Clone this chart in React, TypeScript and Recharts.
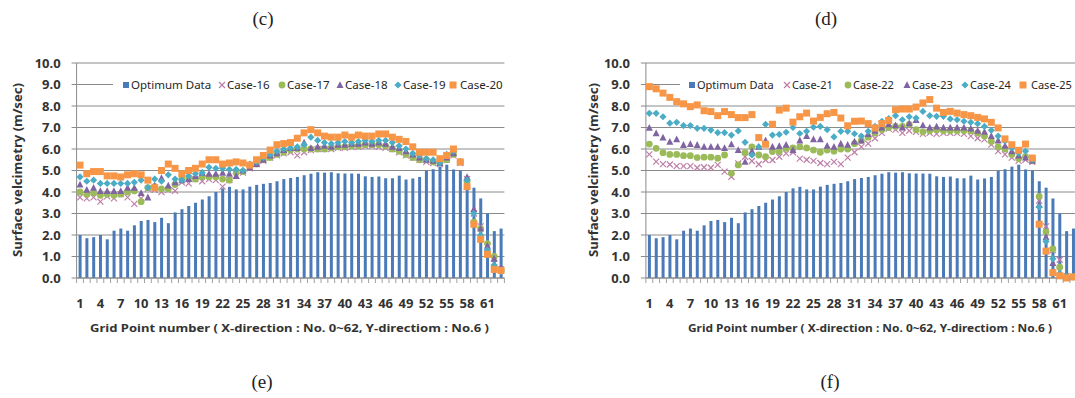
import React from "react";
import { ComposedChart, Bar, Scatter, XAxis, YAxis, CartesianGrid, Legend } from "recharts";

// grid point numbers along X (categories)
const gridPoints = [
  1, 2, 3, 4, 5, 6, 7, 8, 9, 10, 11, 12, 13, 14, 15, 16, 17, 18, 19, 20, 21,
  22, 23, 24, 25, 26, 27, 28, 29, 30, 31, 32, 33, 34, 35, 36, 37, 38, 39, 40, 41, 42,
  43, 44, 45, 46, 47, 48, 49, 50, 51, 52, 53, 54, 55, 56, 57, 58, 59, 60, 61, 62, 63,
];
const yTicks = [0, 1, 2, 3, 4, 5, 6, 7, 8, 9, 10];

const optimum = [
  2.0, 1.85, 1.9, 2.0, 1.8, 2.2, 2.3, 2.2, 2.45, 2.65, 2.7, 2.6, 2.8, 2.55, 3.05, 3.2, 3.35, 3.5, 3.65, 3.8, 4.0,
  4.17, 4.24, 4.12, 4.12, 4.25, 4.33, 4.38, 4.42, 4.5, 4.6, 4.65, 4.7, 4.78, 4.85, 4.92, 4.9, 4.92, 4.87, 4.86, 4.86, 4.85,
  4.73, 4.7, 4.72, 4.64, 4.64, 4.76, 4.58, 4.63, 4.7, 4.99, 5.06, 5.18, 5.27, 5.05, 5.0, 4.5, 4.2, 3.7, 3.0, 2.18, 2.3,
];

// panel (c)
const case16 = [
  3.75, 3.7, 3.75, 3.55, 3.8, 3.7, 3.9, 3.75, 3.45, 3.7, 4.15, 4.1, 4.0, 4.1, 4.05, 4.45, 4.4, 4.6, 4.5, 4.6, 4.55,
  4.25, 4.55, 4.75, 4.9, 5.1, 5.3, 5.45, 5.6, 5.7, 5.8, 5.85, 5.7, 5.85, 5.95, 6.0, 6.0, 6.0, 6.05, 6.05, 6.1, 6.1,
  6.15, 6.15, 6.1, 6.05, 6.0, 5.85, 5.7, 5.6, 5.5, 5.4, 5.35, 5.3, 5.5, 5.7, 5.35, 4.6, 3.0, 2.4, 1.2, 0.7, 0.4,
];
const case17 = [
  4.0, 3.9, 3.95, 3.85, 3.9, 3.85, 3.9, 4.0, 4.05, 3.55, 4.2, 4.25, 4.15, 4.15, 4.35, 4.6, 4.65, 4.6, 4.7, 4.7, 4.7,
  4.6, 4.55, 4.9, 4.95, 5.2, 5.3, 5.5, 5.6, 5.75, 5.85, 5.95, 6.0, 6.0, 6.0, 6.0, 6.0, 6.05, 6.1, 6.1, 6.15, 6.15,
  6.2, 6.2, 6.2, 6.15, 6.0, 5.9, 5.75, 5.6, 5.5, 5.5, 5.4, 5.35, 5.5, 5.75, 5.4, 4.5, 2.6, 2.3, 1.6, 1.0, 0.4,
];
const case18 = [
  4.35, 4.1, 4.2, 4.05, 4.05, 4.05, 4.05, 4.2, 4.2, 3.95, 3.75, 4.3, 4.65, 4.3, 4.45, 4.55, 4.6, 4.75, 4.9, 4.85, 4.85,
  4.9, 4.85, 4.75, 5.0, 5.15, 5.3, 5.5, 5.7, 5.8, 5.95, 6.05, 6.05, 6.3, 6.05, 6.1, 6.15, 6.1, 6.2, 6.2, 6.25, 6.25,
  6.3, 6.25, 6.3, 6.25, 6.1, 6.05, 5.9, 5.75, 5.6, 5.5, 5.45, 5.35, 5.6, 5.8, 5.4, 4.7, 3.2, 2.3, 1.5, 0.9, 0.5,
];
const case19 = [
  4.7, 4.5, 4.55, 4.4, 4.4, 4.4, 4.4, 4.4, 4.45, 4.55, 4.2, 4.6, 4.5, 4.8, 4.6, 4.55, 4.75, 4.85, 4.9, 5.15, 5.1,
  5.1, 5.05, 5.05, 5.0, 5.3, 5.4, 5.6, 5.75, 5.9, 6.0, 6.05, 6.1, 6.2, 6.55, 6.4, 6.3, 6.25, 6.3, 6.35, 6.3, 6.35,
  6.4, 6.35, 6.4, 6.4, 6.3, 6.15, 6.0, 5.8, 5.7, 5.55, 5.5, 5.35, 5.75, 5.9, 5.4, 4.55, 3.0, 2.0, 1.3, 0.6, 0.3,
];
const case20 = [
  5.25, 4.85, 4.95, 4.95, 4.75, 4.75, 4.7, 4.8, 4.85, 4.8, 4.55, 4.2, 5.0, 5.3, 5.1, 4.85, 5.0, 5.1, 5.3, 5.5, 5.5,
  5.3, 5.35, 5.4, 5.35, 5.25, 5.5, 5.7, 5.95, 6.2, 6.25, 6.3, 6.5, 6.75, 6.9, 6.75, 6.6, 6.55, 6.55, 6.65, 6.55, 6.65,
  6.6, 6.6, 6.7, 6.7, 6.55, 6.45, 6.35, 6.1, 5.85, 5.85, 5.85, 5.55, 5.7, 6.0, 5.4, 4.25, 2.5, 1.8, 1.1, 0.4, 0.35,
];

// panel (d)
const case21 = [
  5.75, 5.41, 5.3, 5.28, 5.2, 5.2, 5.2, 5.13, 5.15, 5.13, 5.26, 4.95, 4.71, 5.33, 5.64, 5.44, 5.29, 5.49, 5.49, 5.64, 5.8,
  5.85, 5.55, 5.5, 5.45, 5.35, 5.3, 5.4, 5.3, 5.6, 5.85, 6.1, 6.25, 6.5, 6.75, 6.95, 6.9, 6.75, 6.85, 6.8, 6.7, 6.75,
  6.7, 6.75, 6.75, 6.75, 6.7, 6.6, 6.5, 6.45, 6.2, 5.9, 5.75, 5.6, 5.45, 5.5, 5.4, 3.6, 2.4, 1.3, 0.85, 0.1, 0.05,
];
const case22 = [
  6.23, 6.03, 5.83, 5.75, 5.75, 5.69, 5.69, 5.6, 5.62, 5.62, 5.57, 5.72, 4.87, 5.26, 5.83, 6.1, 5.72, 5.64, 5.88, 5.88, 6.03,
  6.05, 6.1, 6.05, 5.95, 5.85, 5.95, 5.9, 6.0, 6.0, 6.25, 6.4, 6.55, 6.75, 6.9, 7.0, 7.05, 7.05, 7.15, 6.9, 6.8, 6.85,
  6.9, 6.85, 6.85, 6.85, 6.85, 6.85, 6.75, 6.6, 6.35, 6.1, 6.0, 5.75, 5.55, 5.65, 5.45, 3.8, 2.15, 1.35, 0.5, 0.05, 0.05,
];
const case23 = [
  6.99, 6.73, 6.53, 6.34, 6.45, 6.19, 6.23, 6.19, 6.1, 6.1, 6.1, 6.05, 6.22, 5.95, 5.41, 5.9, 6.1, 6.4, 6.1, 6.14, 6.2,
  5.95, 6.4, 6.6, 6.45, 6.45, 6.15, 6.1, 6.25, 6.2, 6.35, 6.4, 6.7, 6.85, 7.0, 7.15, 7.1, 7.0, 7.2, 7.35, 7.1, 7.0,
  7.05, 7.0, 7.0, 7.0, 7.0, 6.95, 6.85, 6.8, 6.6, 6.4, 6.15, 5.9, 5.7, 5.6, 5.45, 3.4, 1.9, 0.7, 0.15, 0.05, 0.05,
];
const case24 = [
  7.66, 7.66, 7.5, 7.2, 7.24, 7.09, 7.09, 6.96, 6.96, 6.88, 6.76, 6.76, 6.65, 6.84, 6.31, 5.72, 6.1, 7.15, 6.65, 6.68, 6.78,
  7.0, 6.72, 6.82, 7.02, 7.05, 6.9, 6.56, 6.82, 6.82, 6.71, 6.6, 6.82, 7.05, 7.29, 7.41, 7.55, 7.36, 7.5, 7.44, 7.75, 7.55,
  7.52, 7.52, 7.4, 7.36, 7.29, 7.24, 7.18, 7.05, 6.87, 6.6, 6.36, 6.05, 5.81, 5.9, 5.5, 3.3, 1.7, 0.9, 0.2, 0.05, 0.05,
];
const case25 = [
  8.9, 8.8, 8.6, 8.4, 8.2, 8.1, 7.97, 8.05, 7.78, 7.74, 7.55, 7.74, 7.6, 7.46, 7.46, 7.6, 6.53, 6.22, 7.15, 7.81, 7.9,
  7.25, 7.5, 7.67, 7.3, 7.47, 7.64, 7.7, 7.44, 7.08, 7.29, 7.3, 7.18, 6.98, 7.18, 7.33, 7.83, 7.86, 7.86, 7.95, 8.14, 8.3,
  7.9, 7.7, 7.75, 7.67, 7.6, 7.55, 7.47, 7.4, 7.24, 6.98, 6.47, 6.2, 5.94, 6.23, 5.58, 2.5, 1.25, 0.25, 0.1, 0.0, 0.05,
];

const BAR_COLOR = "#4A7AB8";
const MARKER_COLORS = ["#BE7FA8", "#9BBB59", "#8064A2", "#4BACC6", "#F79646"];
const MARKER_KINDS = ["bar", "x", "circle", "triangle", "diamond", "square"];

const FONT = "'Noto Sans', sans-serif";
const Y_TITLE = "Surface velcimetry (m/sec)";
const X_TITLE = "Grid Point number ( X-direction : No. 0~62, Y-directiom : No.6 )";
const PLOT_BOTTOM = 278;

function drawMarker(kind: string, cx: number, cy: number, color: string) {
  if (cx == null || cy == null || isNaN(cx) || isNaN(cy)) return <g />;
  switch (kind) {
    case "bar":
      return <rect x={cx - 3} y={cy - 3} width={6} height={6} fill={color} />;
    case "x":
      return (
        <g stroke={color} strokeWidth={1.2}>
          <line x1={cx - 3} y1={cy - 3} x2={cx + 3} y2={cy + 3} />
          <line x1={cx - 3} y1={cy + 3} x2={cx + 3} y2={cy - 3} />
        </g>
      );
    case "circle":
      return <circle cx={cx} cy={cy} r={3.4} fill={color} />;
    case "triangle":
      return <polygon points={`${cx},${cy - 3.8} ${cx + 3.5},${cy + 3} ${cx - 3.5},${cy + 3}`} fill={color} />;
    case "diamond":
      return <polygon points={`${cx},${cy - 3.6} ${cx + 3.6},${cy} ${cx},${cy + 3.6} ${cx - 3.6},${cy}`} fill={color} />;
    default:
      return <rect x={cx - 3.5} y={cy - 3.5} width={7} height={7} fill={color} />;
  }
}

// legend items placed at the icon centres / text starts seen in the figure
function LegendRow({ labels, icons, texts, fontSize }: { labels: string[]; icons: number[]; texts: number[]; fontSize: number }) {
  const colors = [BAR_COLOR, ...MARKER_COLORS];
  return (
    <div
      style={{
        position: "relative",
        height: 16,
        background: "#fff",
        fontFamily: FONT,
        fontSize,
        color: "#262626",
        whiteSpace: "nowrap",
      }}
    >
      {labels.map((label, i) => (
        <React.Fragment key={label}>
          <svg width={8} height={8} style={{ position: "absolute", left: icons[i] - 4, top: 4 }}>
            {drawMarker(MARKER_KINDS[i], 4, 4, colors[i])}
          </svg>
          <span style={{ position: "absolute", left: texts[i], top: 0, lineHeight: "16px" }}>{label}</span>
        </React.Fragment>
      ))}
    </div>
  );
}

type PanelProps = {
  series: number[][];
  names: string[];
  left: number;
  width: number;
  marginLeft: number;
  marginRight: number;
  band: number;
  yTitleX: number;
  xTitleX: number;
  xTitleLen: number;
  legendLeft: number;
  legendWidth: number;
  legendFont: number;
  legendIcons: number[];
  legendTexts: number[];
};

function Panel(p: PanelProps) {
  const rows = gridPoints.map((n, i) => {
    const row: any = { n, opt: optimum[i] };
    p.series.forEach((s, k) => (row[`s${k}`] = s[i]));
    return row;
  });

  const XTick = (props: any) => {
    const { x, payload } = props;
    const n = Number(payload.value);
    const b = p.band / 2;
    return (
      <g>
        <line x1={x - b} x2={x - b} y1={PLOT_BOTTOM} y2={PLOT_BOTTOM + 5} stroke="#a0a0a0" />
        {n === 63 && <line x1={x + b} x2={x + b} y1={PLOT_BOTTOM} y2={PLOT_BOTTOM + 5} stroke="#a0a0a0" />}
        {n % 3 === 1 && (
          <text x={x} y={303} dominantBaseline="central" textAnchor="middle" fontFamily={FONT} fontSize={13} fontWeight="bold" fill="#333">
            {n}
          </text>
        )}
      </g>
    );
  };

  return (
    <div style={{ position: "absolute", left: p.left, top: 0 }}>
      <ComposedChart
        width={p.width}
        height={398}
        data={rows}
        margin={{ top: 63, right: p.marginRight, bottom: 90, left: p.marginLeft }}
      >
        <CartesianGrid vertical={false} stroke="#8a8a8a" />
        <XAxis
          dataKey="n"
          interval={0}
          height={30}
          tickLine={false}
          tickSize={5}
          tickMargin={15}
          stroke="#8a8a8a"
          tick={<XTick />}
          label={{
            content: () => (
              <text
                x={p.xTitleX}
                y={327}
                dominantBaseline="central"
                textAnchor="middle"
                fontFamily={FONT}
                fontSize={11}
                fontWeight="bold"
                fill="#333"
                textLength={p.xTitleLen}
                lengthAdjust="spacingAndGlyphs"
              >
                {X_TITLE}
              </text>
            ),
          }}
        />
        <YAxis
          width={60}
          domain={[0, 10]}
          ticks={yTicks}
          interval={0}
          tickFormatter={(v: number) => v.toFixed(1)}
          stroke="#8a8a8a"
          tickSize={5}
          tickMargin={11}
          tick={{ fontFamily: FONT, fontSize: 13, fontWeight: "bold", fill: "#333" }}
          label={{
            content: () => (
              <text
                x={p.yTitleX}
                y={170}
                transform={`rotate(-90, ${p.yTitleX}, 170)`}
                dominantBaseline="central"
                textAnchor="middle"
                fontFamily={FONT}
                fontSize={12}
                fontWeight="bold"
                fill="#333"
                textLength={174}
                lengthAdjust="spacingAndGlyphs"
              >
                {Y_TITLE}
              </text>
            ),
          }}
        />
        <Legend
          verticalAlign="middle"
          align="center"
          layout="horizontal"
          wrapperStyle={{ left: p.legendLeft, top: 77, width: p.legendWidth, height: 16 }}
          content={() => (
            <LegendRow
              labels={["Optimum Data", ...p.names]}
              icons={p.legendIcons.map((v) => v - p.left - p.legendLeft)}
              texts={p.legendTexts.map((v) => v - p.left - p.legendLeft)}
              fontSize={p.legendFont}
            />
          )}
        />
        <Bar dataKey="opt" name="Optimum Data" fill={BAR_COLOR} barSize={3} isAnimationActive={false} />
        {p.series.map((_, k) => (
          <Scatter
            key={k}
            dataKey={`s${k}`}
            name={p.names[k]}
            fill={MARKER_COLORS[k]}
            isAnimationActive={false}
            shape={(sp: any) => drawMarker(MARKER_KINDS[k + 1], sp.cx, sp.cy, MARKER_COLORS[k])}
          />
        ))}
      </ComposedChart>
    </div>
  );
}

const letterStyle: React.CSSProperties = {
  position: "absolute",
  fontFamily: "'Liberation Serif', serif",
  fontSize: 19,
  color: "#222",
  transform: "translate(-50%, -50%)",
  lineHeight: 1,
};

export default function App() {
  return (
    <div
      style={{
        position: "fixed",
        left: 0,
        top: 0,
        width: 1075,
        height: 398,
        overflow: "hidden",
        background: "#fff",
      }}
    >
      <div style={{ ...letterStyle, left: 263, top: 18 }}>(c)</div>
      <div style={{ ...letterStyle, left: 826, top: 18 }}>(d)</div>
      <div style={{ ...letterStyle, left: 262, top: 381 }}>(e)</div>
      <div style={{ ...letterStyle, left: 830, top: 381 }}>(f)</div>
      <Panel
        series={[case16, case17, case18, case19, case20]}
        names={["Case-16", "Case-17", "Case-18", "Case-19", "Case-20"]}
        left={0}
        width={520}
        marginLeft={16.6}
        marginRight={15.6}
        band={6.79}
        yTitleX={17.5}
        xTitleX={289.5}
        xTitleLen={399}
        legendLeft={113}
        legendWidth={392}
        legendFont={11.5}
        legendIcons={[125.5, 222, 282, 340, 398, 453]}
        legendTexts={[131, 227, 287, 345, 403, 460]}
      />
      <Panel
        series={[case21, case22, case23, case24, case25]}
        names={["Case-21", "Case-22", "Case-23", "Case-24", "Case-25"]}
        left={540}
        width={560}
        marginLeft={45.9}
        marginRight={23.2}
        band={6.84}
        yTitleX={53.5}
        xTitleX={330}
        xTitleLen={364}
        legendLeft={140}
        legendWidth={395}
        legendFont={11}
        legendIcons={[692, 787, 848, 907, 965, 1023]}
        legendTexts={[697, 792, 853, 912, 970, 1031]}
      />
    </div>
  );
}
